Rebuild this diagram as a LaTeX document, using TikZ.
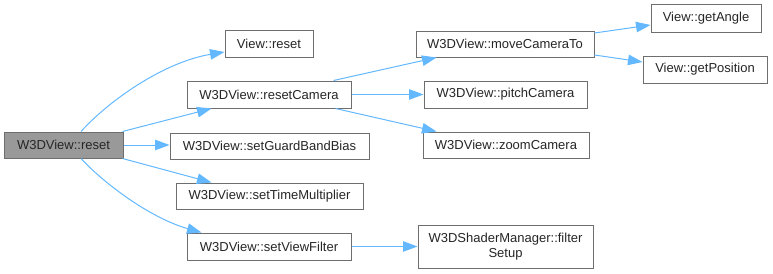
\documentclass[tikz,border=0pt]{standalone}
\usepackage{fontspec}
\setmainfont{Liberation Sans}
\usetikzlibrary{arrows.meta}
\definecolor{boxline}{HTML}{6E6E6E}
\definecolor{rootfill}{HTML}{999999}
\definecolor{edgeblue}{HTML}{63B8FF}
\tikzset{
  fn/.style={draw=boxline, fill=white, line width=1pt, inner sep=0pt,
    minimum height=27pt, align=center,
    font=\fontsize{13}{15.5}\selectfont, text=black!85},
  rootfn/.style={fn, fill=rootfill},
  edge/.style={draw=edgeblue, line width=1pt,
    -{Triangle[length=14.5pt,width=10.5pt]}},
}
\begin{document}
\begin{tikzpicture}[x=1pt,y=-1pt]
\useasboundingbox (0,0) rectangle (773,273);
% call graph nodes
\node[rootfn, minimum width=119pt, minimum height=26pt] (root) at (63.5,145) {W3DView::reset};
\node[fn, minimum width=88pt] (vreset) at (269,43.5) {View::reset};
\node[fn, minimum width=164pt] (rcam) at (269,94.5) {W3DView::resetCamera};
\node[fn, minimum width=199pt, minimum height=26pt] (gbb) at (269.5,146) {W3DView::setGuardBandBias};
\node[fn, minimum width=187pt, minimum height=26pt] (tmult) at (269.5,196) {W3DView::setTimeMultiplier};
\node[fn, minimum width=164pt] (vfilt) at (269,246.5) {W3DView::setViewFilter};
\node[fn, minimum width=178pt, minimum height=26pt] (move) at (505,44) {W3DView::moveCameraTo};
\node[fn, minimum width=163pt] (pitch) at (505.5,94.5) {W3DView::pitchCamera};
\node[fn, minimum width=166pt, minimum height=26pt] (zoomc) at (506,145) {W3DView::zoomCamera};
\node[fn, minimum width=175pt, minimum height=43pt] (fsetup) at (505.5,246.5) {W3DShaderManager::filter\\Setup};
\node[fn, minimum width=110pt, minimum height=28pt] (gangle) at (706,18) {View::getAngle};
\node[fn, minimum width=124pt] (gpos) at (705,69.5) {View::getPosition};
% calls
\draw[edge] ([xshift=17.5pt]root.north) .. controls +(29,-32) and +(-60,10) .. ([yshift=-8.5pt]vreset.west);
\draw[edge] ([xshift=-1pt]root.north east) -- ([xshift=25pt]rcam.south west);
\draw[edge] (root.east) -- (root.east -| gbb.west);
\draw[edge] ([xshift=-1pt]root.south east) -- ([xshift=36pt]tmult.north west);
\draw[edge] ([xshift=17.5pt]root.south) .. controls +(24,26) and +(-50,-14) .. ([xshift=15pt]vfilt.north west);
\draw[edge] ([xshift=-18pt]rcam.north east) -- ([xshift=21pt]move.south west);
\draw[edge] (rcam.east) -- (rcam.east -| pitch.west);
\draw[edge] ([xshift=-16pt]rcam.south east) -- ([xshift=14pt]zoomc.north west);
\draw[edge] ([yshift=11pt]move.east) -- ([yshift=-7pt]gangle.west);
\draw[edge] ([yshift=-11pt]move.east) -- ([yshift=7.5pt]gpos.west);
\draw[edge] (vfilt.east) -- (vfilt.east -| fsetup.west);
\end{tikzpicture}
\end{document}
